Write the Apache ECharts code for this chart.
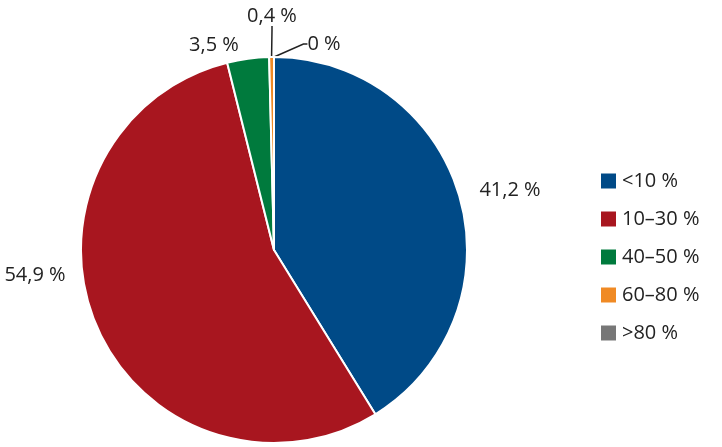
<!DOCTYPE html>
<html><head><meta charset="utf-8">
<script src="https://cdn.jsdelivr.net/npm/echarts@6/dist/echarts.min.js"></script>
<style>html,body{margin:0;padding:0;background:#fff}#c{width:722px;height:447px}</style>
</head><body><div id="c"></div>
<script>
const categories = ['<10 %', '10–30 %', '40–50 %', '60–80 %', '>80 %'];
const values = [41.2, 54.9, 3.5, 0.4, 0];
const labels = ['41,2 %', '54,9 %', '3,5 %', '0,4 %', '0 %'];
const colors = ['#004a87', '#a8161f', '#007a3d', '#f08a24', '#777777'];
const font = '"Liberation Sans Narrow", "Open Sans", sans-serif';
// label offsets (dx, dy) relative to default layout, plus whether a leader line is shown
const labelTweaks = [[0,0,false],[0,0,false],[0,0,false],[0,0,true],[0,0,true]];
const chart = echarts.init(document.getElementById('c'));
chart.setOption({
  animation: false,
  color: colors,
  legend: {
    orient: 'vertical', left: 594, top: 166, itemGap: 18,
    itemWidth: 17, itemHeight: 17, icon: 'rect',
    textStyle: { fontFamily: font, fontSize: 20, color: '#222' },
    data: categories
  },
  series: [{
    type: 'pie', center: [274, 250], radius: 193, startAngle: 90, clockwise: true,
    avoidLabelOverlap: false,
    itemStyle: { borderColor: '#fff', borderWidth: 2 },
    label: { show: true, position: 'outside', fontFamily: font, fontSize: 20, color: '#222',
      formatter: p => labels[p.dataIndex] },
    labelLine: { length: 8, length2: 4, lineStyle: { color: '#222', width: 1.5 } },
    labelLayout: p => {
      const i = p.dataIndex;
      if (i === 0) return { x: 510, y: 190, align: 'center', verticalAlign: 'middle' };
      if (i === 1) return { x: 35, y: 275, align: 'center', verticalAlign: 'middle' };
      if (i === 2) return { x: 214, y: 45, align: 'center', verticalAlign: 'middle' };
      if (i === 3) return { x: 272, y: 16, align: 'center', verticalAlign: 'middle' };
      if (i === 4) return { x: 324, y: 44, align: 'center', verticalAlign: 'middle' };
    },
    data: categories.map((c, i) => ({
      name: c, value: values[i],
      labelLine: { show: labelTweaks[i][2] }
    }))
  }]
});
</script></body></html>
